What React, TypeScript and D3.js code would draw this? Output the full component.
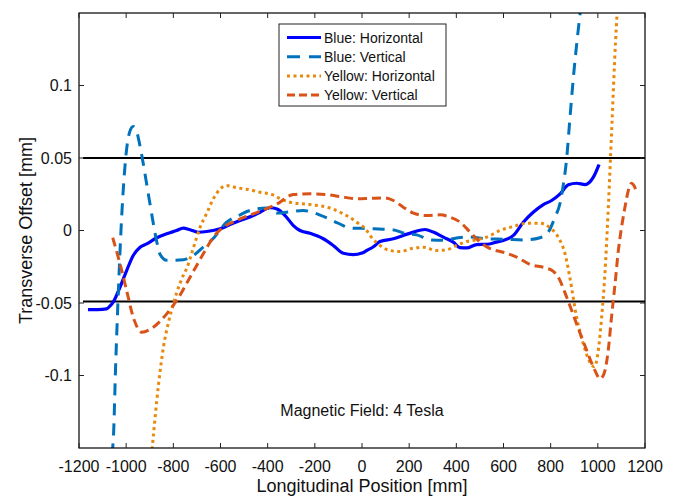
import React from "react";
import * as d3 from "d3";

const xTicks = [-1200, -1000, -800, -600, -400, -200, 0, 200, 400, 600, 800, 1000, 1200];
const yTicks = [-0.1, -0.05, 0, 0.05, 0.1];
const yTickLabels = ["-0.1", "-0.05", "0", "0.05", "0.1"];

const blueHx = [-1162, -1120, -1083, -1068, -1055, -1026, -998, -970, -941, -913, -870, -828, -786, -758, -729, -694, -658, -602, -560, -517, -461, -432, -390, -360, -326, -291, -263, -220, -164, -122, -79, -37, 0, 20, 50, 76, 133, 175, 218, 267, 302, 345, 387, 416, 444, 486, 529, 570, 599, 642, 684, 726, 769, 804, 840, 875, 910, 946, 981, 1005];
const blueHy = [-0.0545, -0.0545, -0.054, -0.052, -0.0494, -0.0391, -0.0276, -0.0172, -0.0115, -0.0092, -0.005, -0.0023, 0, 0.0016, 0.0005, -0.0012, -0.0007, 0.0012, 0.0041, 0.0069, 0.0103, 0.0126, 0.0157, 0.0148, 0.0103, 0.0034, 0, -0.0019, -0.0057, -0.0103, -0.0157, -0.0166, -0.0155, -0.0138, -0.011, -0.0076, -0.0057, -0.0034, -0.0011, 0.0007, -0.0011, -0.0046, -0.008, -0.0118, -0.012, -0.0097, -0.0095, -0.008, -0.0069, -0.0034, 0.0057, 0.0126, 0.0179, 0.0207, 0.0253, 0.0315, 0.0326, 0.0317, 0.0368, 0.0455];

const blueVx = [-1062, -1054, -1045, -1035, -1022, -1002, -985, -970, -955, -941, -913, -885, -870, -856, -828, -790, -758, -715, -670, -635, -574, -520, -475, -404, -360, -300, -250, -200, -140, -100, -50, 0, 70, 130, 182, 232, 295, 345, 407, 458, 529, 600, 690, 755, 790, 818, 840, 855, 868, 882, 896, 910, 925, 940];
const blueVy = [-0.155, -0.1425, -0.095, -0.05, 0, 0.05, 0.068, 0.0717, 0.068, 0.058, 0.032, 0.005, -0.008, -0.0165, -0.0205, -0.0205, -0.0202, -0.0172, -0.011, -0.0062, 0.0057, 0.0105, 0.0138, 0.0155, 0.012, 0.013, 0.0138, 0.012, 0.008, 0.005, 0.0017, 0.0015, 0.001, 0.0005, -0.002, -0.003, -0.0066, -0.0068, -0.005, -0.0045, -0.0058, -0.006, -0.0065, -0.005, -0.001, 0.009, 0.019, 0.033, 0.05, 0.078, 0.105, 0.128, 0.15, 0.17];

const yellowHx = [-895, -870, -856, -842, -820, -800, -786, -758, -743, -715, -687, -658, -630, -602, -575, -531, -489, -432, -376, -348, -305, -220, -136, -79, -22, 20, 34, 76, 119, 161, 218, 260, 317, 359, 401, 444, 486, 529, 585, 642, 698, 755, 797, 832, 861, 882, 910, 938, 967, 985, 1000, 1015, 1030, 1045, 1060, 1075, 1090];
const yellowHy = [-0.16, -0.117, -0.097, -0.0805, -0.063, -0.0506, -0.043, -0.031, -0.026, -0.012, 0.002, 0.012, 0.022, 0.0285, 0.031, 0.0295, 0.0285, 0.0264, 0.0245, 0.022, 0.0195, 0.0179, 0.0155, 0.0115, 0.0057, 0, -0.0034, -0.0103, -0.0138, -0.0145, -0.0122, -0.0115, -0.0138, -0.0133, -0.0103, -0.0076, -0.0064, -0.0046, 0, 0.0028, 0.005, 0.005, 0.0019, -0.0046, -0.0161, -0.033, -0.0598, -0.078, -0.091, -0.094, -0.085, -0.062, -0.03, 0.018, 0.074, 0.13, 0.17];

const yellowVx = [-1057, -1026, -998, -970, -934, -885, -828, -786, -729, -673, -630, -588, -531, -461, -390, -348, -334, -291, -220, -150, -93, -22, 34, 90, 133, 175, 218, 274, 331, 373, 416, 458, 500, 543, 599, 656, 712, 783, 810, 832, 868, 910, 953, 988, 1009, 1026, 1044, 1058, 1073, 1087, 1094, 1115, 1130, 1143, 1153, 1162];
const yellowVy = [-0.005, -0.023, -0.0414, -0.0598, -0.0701, -0.0667, -0.0575, -0.0483, -0.0322, -0.0161, -0.0046, 0.0023, 0.0069, 0.0115, 0.0161, 0.0195, 0.0212, 0.0248, 0.0253, 0.0248, 0.0234, 0.0219, 0.0222, 0.0225, 0.0207, 0.0161, 0.012, 0.0103, 0.0108, 0.0092, 0.0057, -0.001, -0.008, -0.0125, -0.015, -0.0184, -0.0234, -0.026, -0.028, -0.0322, -0.046, -0.0644, -0.0828, -0.0966, -0.1023, -0.0989, -0.0828, -0.0598, -0.0368, -0.0138, -0.005, 0.016, 0.028, 0.0326, 0.031, 0.0276];

const refLines = [0.05, -0.049];
const refStart = -1183;

const seriesNames = ["Blue: Horizontal", "Blue: Vertical", "Yellow: Horizontal", "Yellow: Vertical"];
const seriesColors = ["#0000FF", "#0072BD", "#E8890C", "#D95319"];
const seriesDash = ["none", "12,8", "3,3.5", "9,5"];

const W = 677, H = 500;
const L = 79, R = 645, T = 13, B = 448;
const FONT = "'Liberation Sans', Arial, Helvetica, sans-serif";

export default function App() {
  const x = d3.scaleLinear().domain([-1200, 1200]).range([L, R]);
  const y = d3.scaleLinear().domain([-0.15, 0.15]).range([B, T]);
  const line = d3
    .line<[number, number]>()
    .x((d) => x(d[0]))
    .y((d) => y(d[1]))
    .curve(d3.curveMonotoneX);

  const data: [number, number][][] = [
    blueHx.map((v, i) => [v, blueHy[i]]),
    blueVx.map((v, i) => [v, blueVy[i]]),
    yellowHx.map((v, i) => [v, yellowHy[i]]),
    yellowVx.map((v, i) => [v, yellowVy[i]]),
  ];
  const drawOrder = [0, 1, 2, 3];
  const tickLen = 5;
  const legX = 279, legY = 24, legW = 167, legH = 82;
  const rowY = [37.5, 56.7, 76, 95];

  return (
    <svg width={W} height={H} style={{ position: "absolute", left: 0, top: 0, background: "#fff" }} fontFamily={FONT}>
      <defs>
        <clipPath id="plotclip">
          <rect x={L} y={T} width={R - L} height={B - T} />
        </clipPath>
      </defs>
      <rect x={0} y={0} width={W} height={H} fill="#fff" />
      {/* reference lines */}
      {refLines.map((v, i) => (
        <line key={"ref" + i} x1={x(refStart)} x2={R} y1={y(v)} y2={y(v)} stroke="#000" strokeWidth={2} />
      ))}
      {/* series */}
      <g clipPath="url(#plotclip)">
        {drawOrder.map((k) => (
          <path
            key={"s" + k}
            d={line(data[k]) || ""}
            fill="none"
            stroke={seriesColors[k]}
            strokeWidth={k === 0 ? 3.2 : 3}
            strokeDasharray={seriesDash[k]}
            strokeLinejoin="round"
          />
        ))}
      </g>
      {/* box */}
      <rect x={L} y={T} width={R - L} height={B - T} fill="none" stroke="#000" strokeWidth={1.2} />
      {/* x ticks */}
      {xTicks.map((t) => (
        <g key={"xt" + t}>
          <line x1={x(t)} x2={x(t)} y1={B} y2={B - tickLen} stroke="#222" strokeWidth={1} />
          <line x1={x(t)} x2={x(t)} y1={T} y2={T + tickLen} stroke="#222" strokeWidth={1} />
          <text x={x(t)} y={472} fontSize={16} textAnchor="middle" fill="#111">
            {t}
          </text>
        </g>
      ))}
      {/* y ticks */}
      {yTicks.map((t, i) => (
        <g key={"yt" + t}>
          <line x1={L} x2={L + tickLen} y1={y(t)} y2={y(t)} stroke="#222" strokeWidth={1} />
          <line x1={R} x2={R - tickLen} y1={y(t)} y2={y(t)} stroke="#222" strokeWidth={1} />
          <text x={72} y={y(t) + 5.5} fontSize={16} textAnchor="end" fill="#111">
            {yTickLabels[i]}
          </text>
        </g>
      ))}
      {/* axis titles */}
      <text x={(L + R) / 2} y={492} fontSize={18} textAnchor="middle" fill="#111">
        Longitudinal Position [mm]
      </text>
      <text
        transform={`translate(32, ${(T + B) / 2}) rotate(-90)`}
        fontSize={18}
        textAnchor="middle"
        fill="#111"
      >
        Transverse Offset [mm]
      </text>
      {/* annotation */}
      <text x={(L + R) / 2} y={416} fontSize={16} textAnchor="middle" fill="#111">
        Magnetic Field: 4 Tesla
      </text>
      {/* legend */}
      <rect x={legX} y={legY} width={legW} height={legH} fill="#fff" stroke="#222" strokeWidth={1} />
      {seriesNames.map((n, k) => (
        <g key={"lg" + k}>
          <line
            x1={287}
            x2={321}
            y1={rowY[k]}
            y2={rowY[k]}
            stroke={seriesColors[k]}
            strokeWidth={k === 0 ? 3.2 : 3}
            strokeDasharray={k === 1 ? "13,9" : k === 3 ? "8,4" : seriesDash[k]}
          />
          <text x={324} y={rowY[k] + 5} fontSize={14} fill="#111">
            {n}
          </text>
        </g>
      ))}
    </svg>
  );
}
